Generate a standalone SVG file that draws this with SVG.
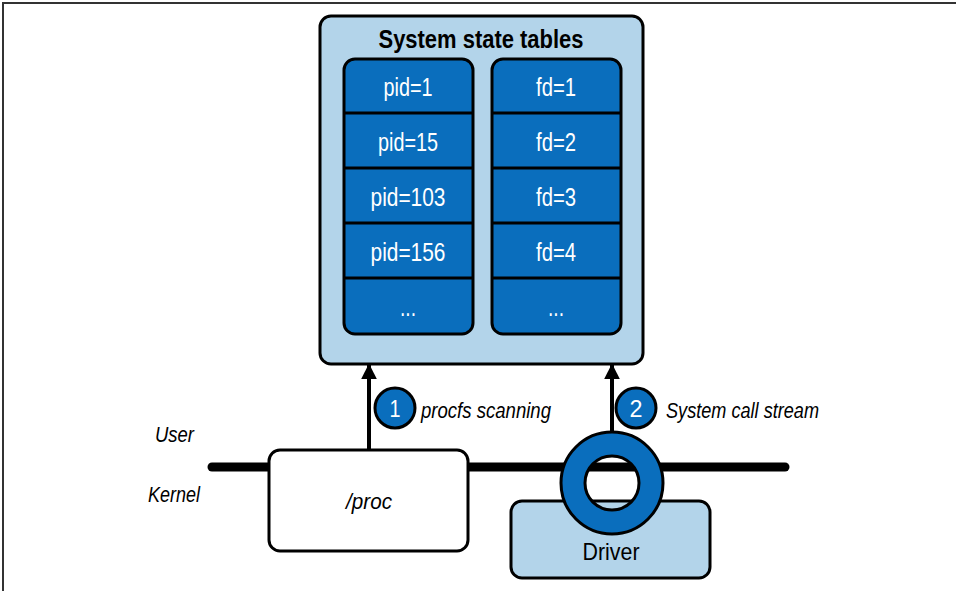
<svg xmlns="http://www.w3.org/2000/svg" width="956" height="591" viewBox="0 0 956 591">
  <defs>
    <style>
      .frame { stroke: #333; stroke-width: 2; fill: none; }
      .box { stroke: #000; stroke-width: 3; }
      .light { fill: #b3d4ea; }
      .blue { fill: #0a6ebd; }
      .cell { fill: #0a6ebd; stroke: #000; stroke-width: 3; }
      .sep { stroke: #000; stroke-width: 3; }
      text { font-family: "Liberation Sans", Arial, sans-serif; }
      .cellText { font-size: 25px; fill: #fff; text-anchor: middle; }
      .title { font-size: 26px; font-weight: bold; fill: #000; text-anchor: middle; }
      .label { font-size: 22px; font-style: italic; fill: #000; }
      .plain { font-size: 24px; fill: #000; text-anchor: middle; }
      .num { font-size: 24px; fill: #fff; text-anchor: middle; }
      .conn { stroke: #000; stroke-width: 4; fill: none; }
    </style>
    <marker id="arrow" viewBox="0 0 10 10" refX="9" refY="5" markerWidth="4" markerHeight="4" orient="auto" markerUnits="strokeWidth">
      <path d="M0,0 L10,5 L0,10 z" fill="#000"/>
    </marker>
  </defs>

  <rect width="956" height="591" fill="#fff"/>
  <!-- page frame: top and left edges -->
  <path class="frame" d="M3,591 L3,3 L956,3"/>

  <!-- user/kernel boundary -->
  <line x1="212" y1="467" x2="785" y2="467" stroke="#000" stroke-width="9" stroke-linecap="round"/>
  <text class="label" x="155" y="442" textLength="39" lengthAdjust="spacingAndGlyphs">User</text>
  <text class="label" x="148" y="502" textLength="52" lengthAdjust="spacingAndGlyphs">Kernel</text>

  <!-- state tables -->
  <g id="state-tables">
    <rect class="box light" x="320" y="16" width="323" height="348" rx="11"/>
    <text class="title" x="481" y="48" textLength="205" lengthAdjust="spacingAndGlyphs">System state tables</text>
  </g>

  <g id="pid-table">
    <rect class="cell" x="344" y="59" width="129" height="275" rx="11"/>
    <line class="sep" x1="344" y1="113" x2="473" y2="113"/>
    <line class="sep" x1="344" y1="168" x2="473" y2="168"/>
    <line class="sep" x1="344" y1="223" x2="473" y2="223"/>
    <line class="sep" x1="344" y1="278" x2="473" y2="278"/>
    <text class="cellText" x="408" y="96" textLength="49" lengthAdjust="spacingAndGlyphs">pid=1</text>
    <text class="cellText" x="408" y="151" textLength="60" lengthAdjust="spacingAndGlyphs">pid=15</text>
    <text class="cellText" x="408" y="206" textLength="75" lengthAdjust="spacingAndGlyphs">pid=103</text>
    <text class="cellText" x="408" y="261" textLength="75" lengthAdjust="spacingAndGlyphs">pid=156</text>
    <text class="cellText" x="408" y="316" textLength="16" lengthAdjust="spacingAndGlyphs">...</text>
  </g>

  <g id="fd-table">
    <rect class="cell" x="492" y="59" width="129" height="275" rx="11"/>
    <line class="sep" x1="492" y1="113" x2="621" y2="113"/>
    <line class="sep" x1="492" y1="168" x2="621" y2="168"/>
    <line class="sep" x1="492" y1="223" x2="621" y2="223"/>
    <line class="sep" x1="492" y1="278" x2="621" y2="278"/>
    <text class="cellText" x="556" y="96" textLength="40" lengthAdjust="spacingAndGlyphs">fd=1</text>
    <text class="cellText" x="556" y="151" textLength="40" lengthAdjust="spacingAndGlyphs">fd=2</text>
    <text class="cellText" x="556" y="206" textLength="40" lengthAdjust="spacingAndGlyphs">fd=3</text>
    <text class="cellText" x="556" y="261" textLength="40" lengthAdjust="spacingAndGlyphs">fd=4</text>
    <text class="cellText" x="556" y="316" textLength="16" lengthAdjust="spacingAndGlyphs">...</text>
  </g>

  <g id="proc">
    <rect class="box" fill="#fff" x="269" y="450" width="199" height="101" rx="11"/>
    <text class="label" x="369" y="509" text-anchor="middle" font-size="24" textLength="46" lengthAdjust="spacingAndGlyphs">/proc</text>
  </g>

  <g id="driver">
    <rect class="box light" x="511" y="501" width="199" height="77" rx="11"/>
    <text class="plain" x="611" y="560" textLength="57" lengthAdjust="spacingAndGlyphs">Driver</text>
  </g>

  <g id="ring-buffer">
    <path class="blue" fill-rule="evenodd" stroke="#000" stroke-width="3"
          d="M561,483 a51,51 0 1,0 102,0 a51,51 0 1,0 -102,0 z M585,483 a27,27 0 1,0 54,0 a27,27 0 1,0 -54,0 z"/>
  </g>

  <g id="connectors">
    <line class="conn" x1="369" y1="450" x2="369" y2="365" marker-end="url(#arrow)"/>
    <line class="conn" x1="612" y1="432" x2="612" y2="365" marker-end="url(#arrow)"/>
  </g>

  <g id="step-1">
    <circle cx="395" cy="408" r="20" class="blue" stroke="#000" stroke-width="3"/>
    <text class="num" x="395" y="417" textLength="11" lengthAdjust="spacingAndGlyphs">1</text>
    <text class="label" x="421" y="418" textLength="130" lengthAdjust="spacingAndGlyphs">procfs scanning</text>
  </g>

  <g id="step-2">
    <circle cx="636" cy="408" r="20" class="blue" stroke="#000" stroke-width="3"/>
    <text class="num" x="636" y="417" textLength="13" lengthAdjust="spacingAndGlyphs">2</text>
    <text class="label" x="666" y="418" textLength="153" lengthAdjust="spacingAndGlyphs">System call stream</text>
  </g>
</svg>
